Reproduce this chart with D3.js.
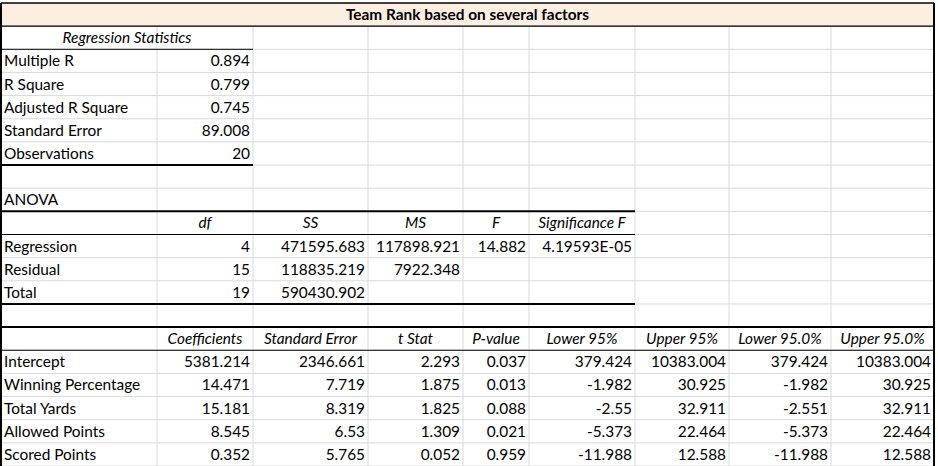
<!DOCTYPE html>
<html><head><meta charset="utf-8">
<script src="https://cdn.jsdelivr.net/npm/d3@7"></script>
<style>body{margin:0;background:#fff}</style></head>
<body><svg id="c" width="938" height="466"></svg>
<script>
const title = "Team Rank based on several factors";
const colEdges = [1,157,253,368,463,529,635,729,831,934];
const regStatLabels = ["Multiple R","R Square","Adjusted R Square","Standard Error","Observations"];
const regStatValues = ["0.894","0.799","0.745","89.008","20"];
const anovaHeader = ["","df","SS","MS","F","Significance F"];
const anovaRows = [
  ["Regression","4","471595.683","117898.921","14.882","4.19593E-05"],
  ["Residual","15","118835.219","7922.348","",""],
  ["Total","19","590430.902","","",""]
];
const coefHeader = ["","Coefficients","Standard Error","t Stat","P-value","Lower 95%","Upper 95%","Lower 95.0%","Upper 95.0%"];
const coefRows = [
  ["Intercept","5381.214","2346.661","2.293","0.037","379.424","10383.004","379.424","10383.004"],
  ["Winning Percentage","14.471","7.719","1.875","0.013","-1.982","30.925","-1.982","30.925"],
  ["Total Yards","15.181","8.319","1.825","0.088","-2.55","32.911","-2.551","32.911"],
  ["Allowed Points","8.545","6.53","1.309","0.021","-5.373","22.464","-5.373","22.464"],
  ["Scored Points","0.352","5.765","0.052","0.959","-11.988","12.588","-11.988","12.588"]
];
const svg = d3.select("#c");
const nRows = 20;
const y = d3.scaleLinear().domain([0,nRows]).range([3,466]);
const x = i => colEdges[i];
const font = "Lato, 'Open Sans', sans-serif";
svg.append("rect").attr("x",x(0)).attr("y",y(0)).attr("width",x(9)-x(0)).attr("height",y(1)-y(0)).attr("fill","#fcefe2");
const g = svg.append("g");
for(let r=1;r<=nRows;r++) g.append("line").attr("x1",x(0)).attr("x2",x(9)).attr("y1",y(r)).attr("y2",y(r)).attr("stroke","#d9d9d9");
for(let c=1;c<9;c++) g.append("line").attr("x1",x(c)).attr("x2",x(c)).attr("y1",y(1)).attr("y2",y(nRows)).attr("stroke","#d9d9d9");
function hl(r,c0,c1,w){svg.append("line").attr("x1",x(c0)).attr("x2",x(c1)).attr("y1",y(r)).attr("y2",y(r)).attr("stroke","#000").attr("stroke-width",w);}
hl(0,0,9,1.5); hl(1,0,9,1.2);
hl(2,0,2,1); hl(7,0,2,2);
hl(9,0,6,2); hl(10,0,6,1); hl(13,0,6,2);
hl(14,0,9,2); hl(15,0,9,1);
svg.append("line").attr("x1",x(0)).attr("x2",x(0)).attr("y1",y(0)).attr("y2",466).attr("stroke","#000").attr("stroke-width",2);
svg.append("line").attr("x1",x(9)).attr("x2",x(9)).attr("y1",y(0)).attr("y2",466).attr("stroke","#000").attr("stroke-width",2);
function txt(r,c,s,opt={}){
  if(!s) return;
  const mid=(y(r)+y(r+1))/2+5.5;
  let anchor="end", tx=x(c+1)-3;
  if(opt.left){anchor="start";tx=x(c)+3;}
  if(opt.center){anchor="middle";tx=(x(c)+x(opt.span||c+1))/2;}
  svg.append("text").attr("x",tx).attr("y",mid).attr("text-anchor",anchor)
   .attr("font-family",font).attr("font-size",15.4).attr("fill","#000")
   .attr("font-style",opt.italic?"italic":null).attr("font-weight",opt.bold?"bold":null).text(s);
}
txt(0,0,title,{center:true,span:9,bold:true});
txt(1,0,"Regression Statistics",{center:true,span:2,italic:true});
regStatLabels.forEach((l,i)=>{txt(2+i,0,l,{left:true});txt(2+i,1,regStatValues[i]);});
txt(8,0,"ANOVA",{left:true});
anovaHeader.forEach((h,c)=>txt(9,c,h,{center:true,italic:true}));
anovaRows.forEach((row,i)=>row.forEach((v,c)=>txt(10+i,c,v,c===0?{left:true}:{})));
coefHeader.forEach((h,c)=>txt(14,c,h,{center:true,italic:true}));
coefRows.forEach((row,i)=>row.forEach((v,c)=>txt(15+i,c,v,c===0?{left:true}:{})));
</script></body></html>
